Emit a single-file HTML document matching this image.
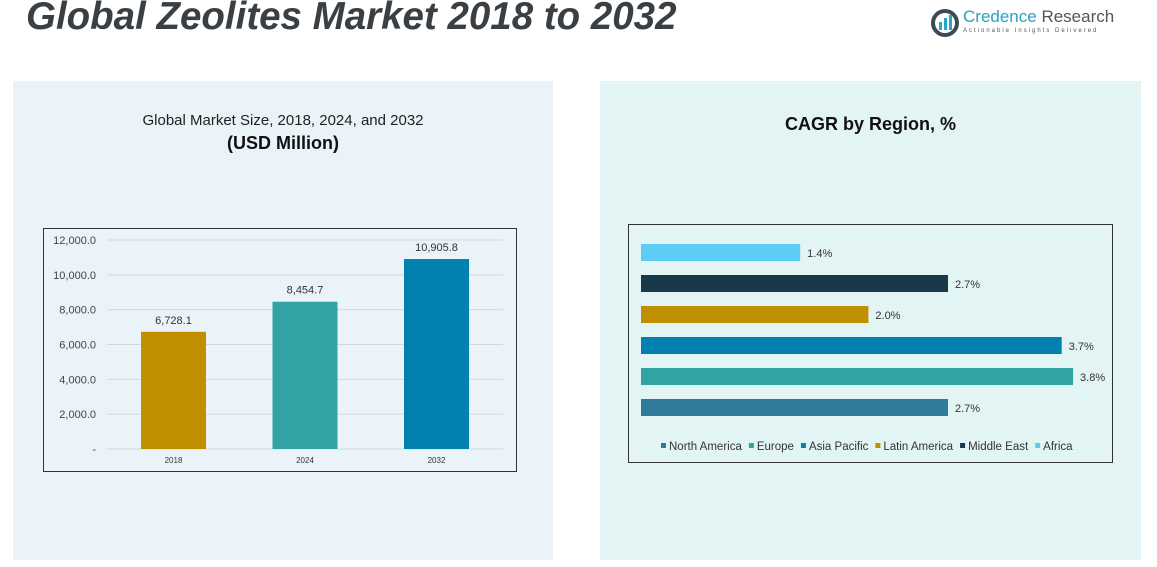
<!DOCTYPE html>
<html><head><meta charset="utf-8"><style>
body{margin:0;width:1157px;height:567px;background:#fff;position:relative;overflow:hidden;font-family:"Liberation Sans",sans-serif}
.abs{position:absolute}
</style></head><body>
<div class="abs" style="left:26px;top:-5px;font-size:38.5px;font-weight:bold;font-style:italic;color:#3a3f44;white-space:nowrap">Global Zeolites Market 2018 to 2032</div>
<div class="abs" style="left:930px;top:6px;width:200px;height:32px">
<svg width="30" height="30" style="position:absolute;left:0;top:2px"><circle cx="15" cy="15" r="12" fill="none" stroke="#3d4a55" stroke-width="4"/><rect x="9" y="14" width="3" height="8" fill="#2aa6c9"/><rect x="14" y="10" width="3" height="12" fill="#2aa6c9"/><rect x="19" y="7" width="3" height="15" fill="#2aa6c9"/></svg>
<div style="position:absolute;left:33px;top:1px;font-size:17px;color:#2a9fc7;white-space:nowrap">Credence <span style="color:#555">Research</span></div>
<div style="position:absolute;left:33px;top:22px;font-size:6px;letter-spacing:2px;color:#555;white-space:nowrap">Actionable Insights Delivered</div>
</div>
<div class="abs" style="left:13px;top:81px;width:540px;height:479px;background:#eaf3f8"></div>
<div class="abs" style="left:600px;top:81px;width:541px;height:479px;background:#e3f4f4"></div>
<div class="abs" style="left:13px;top:112px;width:540px;text-align:center;font-size:15px;color:#222">Global Market Size, 2018, 2024, and 2032</div>
<div class="abs" style="left:13px;top:133px;width:540px;text-align:center;font-size:18px;font-weight:bold;color:#111">(USD Million)</div>
<div class="abs" style="left:600px;top:114px;width:541px;text-align:center;font-size:18px;font-weight:bold;color:#111">CAGR by Region, %</div>
<svg class="abs" style="left:0;top:0" width="1157" height="567" id="svg"></svg>
<script>
const years=["2018","2024","2032"];
const sizes=[6728.1,8454.7,10905.8];
const sizeLabels=["6,728.1","8,454.7","10,905.8"];
const yTicks=[0,2000,4000,6000,8000,10000,12000];
const yTickLabels=["-","2,000.0","4,000.0","6,000.0","8,000.0","10,000.0","12,000.0"];
const regions=["North America","Europe","Asia Pacific","Latin America","Middle East","Africa"];
const cagr=[2.7,3.8,3.7,2.0,2.7,1.4];
const cagrLabels=["2.7%","3.8%","3.7%","2.0%","2.7%","1.4%"];
const barColors=["#bf8f00","#31a3a3","#0280b0"];
const regColors=["#2f7b99","#31a3a3","#0280b0","#bf8f00","#17394a","#5bcdf5"];
const S=document.getElementById('svg');const NS="http://www.w3.org/2000/svg";
function el(t,a,txt){const e=document.createElementNS(NS,t);for(const k in a)e.setAttribute(k,a[k]);if(txt!=null)e.textContent=txt;S.appendChild(e);return e;}
let f=el('rect',{x:43.5,y:228.5,width:473,height:243,fill:'none',stroke:'#333'});


const y0=449,yTop=240,yMax=12000;
const yS=v=>y0-(v/yMax)*(y0-yTop);
yTicks.forEach((t,i)=>{
 let g=el('line',{x1:107,x2:503,y1:yS(t),y2:yS(t),stroke:'#d0d8dc','stroke-width':1});
 
 
 let l=el('text',{x:96,y:yS(t)+4,'text-anchor':'end','font-size':11,fill:'#444'},yTickLabels[i]);
 
 
});
const xC=[173.5,305,436.5],bw=65;
years.forEach((y,i)=>{
 let r=el('rect',{x:xC[i]-bw/2,y:yS(sizes[i]),width:bw,height:y0-yS(sizes[i]),fill:barColors[i]});
 
 
 let v=el('text',{x:xC[i],y:yS(sizes[i])-8,'text-anchor':'middle','font-size':11,fill:'#333'},sizeLabels[i]);
 
 
 let x=el('text',{x:xC[i],y:463,'text-anchor':'middle','font-size':8,fill:'#333'},y);
 
 
});
let f2=el('rect',{x:628.5,y:224.5,width:484,height:238,fill:'none',stroke:'#333'});


const x0=641,pxPer=113.7;
const rowY=[399,368,337,306,275,244],bh=17;
regions.forEach((r,i)=>{
 let b=el('rect',{x:x0,y:rowY[i],width:cagr[i]*pxPer,height:bh,fill:regColors[i]});
 
 
 let t=el('text',{x:x0+cagr[i]*pxPer+7,y:rowY[i]+13,'font-size':11,fill:'#333'},cagrLabels[i]);
 
 
});
let lx=661;
regions.forEach((r,i)=>{
 let s=el('rect',{x:lx,y:443,width:5,height:5,fill:regColors[i]});
 
 
 let t=el('text',{x:lx+8,y:450,'font-size':11.5,fill:'#333'},r);
 
 
 lx+=t.getComputedTextLength()+15;
});
</script>
</body></html>
